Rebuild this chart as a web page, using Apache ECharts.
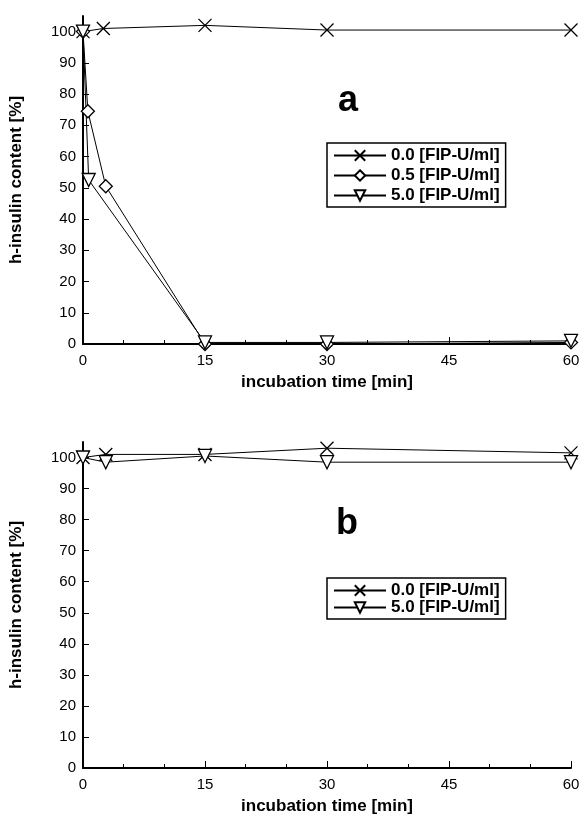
<!DOCTYPE html>
<html>
<head>
<meta charset="utf-8">
<script src="https://cdn.jsdelivr.net/npm/echarts@6/dist/echarts.min.js"></script>
<style>
html, body { margin: 0; padding: 0; background: #fff; }
#chart { width: 586px; height: 822px; }
</style>
</head>
<body>
<div id="chart"></div>
<script>
// panel a: h-insulin content [%] vs incubation time [min]
const aZero = [[0, 100], [2.5, 101], [15, 102], [30, 100.5], [60, 100.5]]
const aHalf = [[0, 100], [0.6, 74.5], [2.8, 50.5], [15, 0], [30, 0], [60, 0.5]]
const aFive = [[0, 100], [0.7, 52.5], [15, 0.5], [30, 0.5], [60, 1]]

// panel b
const bZero = [[0, 100], [2.8, 101], [15, 101], [30, 103], [60, 101.5]]
const bFive = [[0, 100], [2.8, 98.5], [15, 100.5], [30, 98.5], [60, 98.5]]

const names = ['0.0 [FIP-U/ml]', '0.5 [FIP-U/ml]', '5.0 [FIP-U/ml]']
const yTicks = [0, 10, 20, 30, 40, 50, 60, 70, 80, 90, 100]
const panelLetters = ['a', 'b']

const font = "'Liberation Sans', Arial, sans-serif"
const crossIcon = 'path://M0 0L10 10M10 0L0 10'
const triIcon = 'path://M0 0L10 0L5 9Z'

const xAxisBase = (gridIndex) => ({
  type: 'value',
  gridIndex: gridIndex,
  min: 0,
  max: 60,
  interval: 15,
  name: 'incubation time [min]',
  nameLocation: 'middle',
  nameGap: 30,
  nameTextStyle: { fontFamily: font, fontWeight: 'bold', fontSize: 17, color: '#000' },
  axisLine: { lineStyle: { color: '#000', width: 2 } },
  axisTick: { inside: true, length: 7, lineStyle: { color: '#000', width: 1 } },
  minorTick: { show: true, splitNumber: 3, length: 4, lineStyle: { color: '#000', width: 1 } },
  axisLabel: { fontFamily: font, fontSize: 15, color: '#000', margin: 9 },
  splitLine: { show: false }
})

const yAxisBase = (gridIndex) => ({
  type: 'value',
  gridIndex: gridIndex,
  min: 0,
  max: 105,
  name: 'h-insulin content [%]',
  nameLocation: 'middle',
  nameRotate: 90,
  nameGap: 58,
  nameTextStyle: { fontFamily: font, fontWeight: 'bold', fontSize: 17, color: '#000' },
  axisLine: { lineStyle: { color: '#000', width: 2 } },
  axisTick: { inside: true, length: 6, customValues: yTicks, lineStyle: { color: '#000', width: 1 } },
  axisLabel: { fontFamily: font, fontSize: 15, color: '#000', margin: 7, customValues: yTicks },
  splitLine: { show: false }
})

const lineSeries = (name, data, symbol, idx) => ({
  name: name,
  type: 'line',
  xAxisIndex: idx,
  yAxisIndex: idx,
  data: data,
  symbol: symbol,
  symbolSize: 13,
  showAllSymbol: true,
  lineStyle: { color: '#000', width: 1 },
  itemStyle: { color: '#fff', borderColor: '#000', borderWidth: 1.3 },
  emphasis: { disabled: true },
  z: 3
})

const legendBase = (top, data, gap) => ({
  orient: 'vertical',
  left: 327,
  top: top,
  data: data,
  itemWidth: 52,
  itemHeight: 13,
  itemGap: gap,
  padding: [4, 6, 3, 6],
  borderColor: '#000',
  borderWidth: 1.5,
  selectedMode: false,
  textStyle: { fontFamily: font, fontWeight: 'bold', fontSize: 17, color: '#000' }
})

const chart = echarts.init(document.getElementById('chart'))
chart.setOption({
  animation: false,
  backgroundColor: '#fff',
  title: [
    { text: panelLetters[0], left: 333, top: 78, textStyle: { fontFamily: font, fontWeight: 'bold', fontSize: 36, color: '#000' } },
    { text: panelLetters[1], left: 331, top: 501, textStyle: { fontFamily: font, fontWeight: 'bold', fontSize: 36, color: '#000' } }
  ],
  legend: [
    legendBase(143, names, 3),
    legendBase(578, [names[0], names[2]], 0)
  ],
  grid: [
    { left: 80, right: 15, top: 16, height: 328 },
    { left: 80, right: 15, top: 442, height: 326 }
  ],
  xAxis: [xAxisBase(0), xAxisBase(1)],
  yAxis: [yAxisBase(0), yAxisBase(1)],
  series: [
    lineSeries(names[0], aZero, crossIcon, 0),
    lineSeries(names[1], aHalf, 'diamond', 0),
    lineSeries(names[2], aFive, triIcon, 0),
    lineSeries(names[0], bZero, crossIcon, 1),
    lineSeries(names[2], bFive, triIcon, 1)
  ]
})
</script>
</body>
</html>
